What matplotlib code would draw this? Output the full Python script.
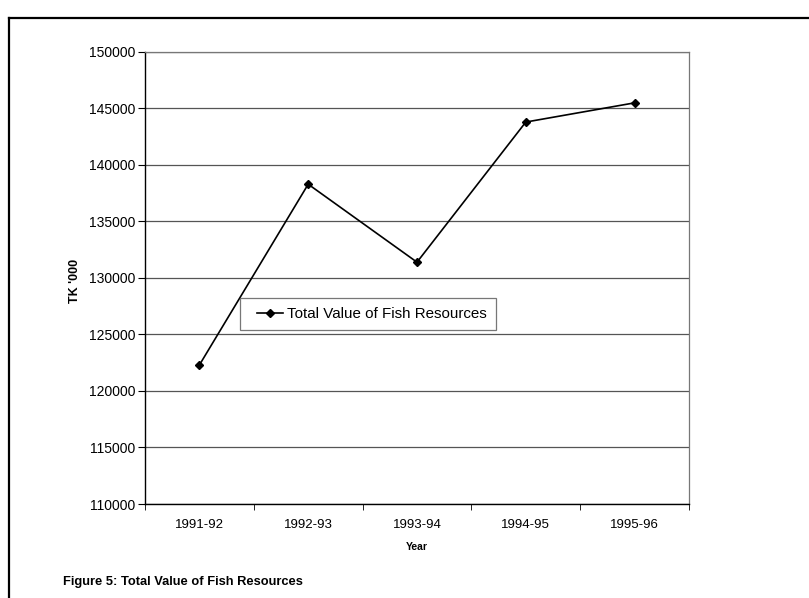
import matplotlib.pyplot as plt
from matplotlib.lines import Line2D
from matplotlib.legend_handler import HandlerLine2D

years = ["1991-92", "1992-93", "1993-94", "1994-95", "1995-96"]
values = [122300, 138300, 131400, 143800, 145500]
y_ticks = [110000, 115000, 120000, 125000, 130000, 135000, 140000, 145000, 150000]

plt.rcParams['font.family'] = ['Liberation Sans', 'DejaVu Sans']

W, H = 809, 598
fig = plt.figure(figsize=(W / 100, H / 100), dpi=100)
ax = fig.add_axes([145 / W, 1 - 504 / H, 544 / W, 452 / H])

x = list(range(len(years)))
line, = ax.plot(x, values, color='black', lw=1.2, marker='D', markersize=3.8,
                label='Total Value of Fish Resources')

ax.set_xlim(-0.5, len(years) - 0.5)
ax.set_ylim(110000, 150000)
ax.set_yticks(y_ticks)
ax.set_yticklabels([str(v) for v in y_ticks], fontsize=10)
ax.set_xticks(x)
ax.set_xticklabels(years, fontsize=9.5)
ax.set_xticks([i - 0.5 for i in range(len(years) + 1)], minor=True)
ax.tick_params(axis='x', which='major', length=0, pad=11)
ax.tick_params(axis='x', which='minor', length=4, color='black', direction='out')
ax.tick_params(axis='y', length=5, color='black', direction='out', pad=2)

ax.grid(axis='y', color='#555555', lw=0.9)
ax.set_axisbelow(True)
for side in ['top', 'right']:
    ax.spines[side].set_color('#777777')
    ax.spines[side].set_linewidth(0.9)
for side in ['left', 'bottom']:
    ax.spines[side].set_color('black')
    ax.spines[side].set_linewidth(1.0)

ax.set_xlabel('Year', fontsize=7.5, fontweight='bold', labelpad=8)
ax.set_ylabel("TK '000", fontsize=9, fontweight='bold', va='center')
ax.yaxis.set_label_coords((75 - 145) / 544, (504 - 281) / 452)

leg = ax.legend(loc='upper left', bbox_to_anchor=((240 - 145) / 544, (504 - 298) / 452),
                fontsize=10.9, frameon=True, fancybox=False, borderpad=0.6,
                handlelength=2.25, handletextpad=0.26, borderaxespad=0,
                handler_map={line: HandlerLine2D(xpad=0.53)})
leg.get_frame().set_edgecolor('#555555')
leg.get_frame().set_linewidth(0.9)

fig.text(63 / W, 1 - 582 / H, 'Figure 5: Total Value of Fish Resources',
         fontsize=9.3, fontweight='bold', va='center')

# outer frame (top and left edges)
fig.add_artist(Line2D([9 / W, 1.0], [1 - 18 / H, 1 - 18 / H], color='black', lw=1.6))
fig.add_artist(Line2D([9 / W, 9 / W], [0.0, 1 - 18 / H], color='black', lw=1.6))

fig.savefig('out.png', dpi=100)
